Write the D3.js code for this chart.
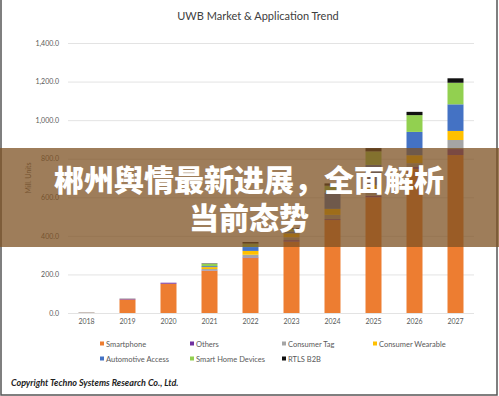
<!DOCTYPE html>
<html><head><meta charset="utf-8">
<script src="https://cdn.jsdelivr.net/npm/d3@7/dist/d3.min.js"></script>
<style>body{margin:0;background:#fff}svg{display:block}</style>
</head><body>
<svg id="c" width="499" height="396"></svg>
<script>
const years = ["2018","2019","2020","2021","2022","2023","2024","2025","2026","2027"];
const seriesNames = ["Smartphone","Others","Consumer Tag","Consumer Wearable","Automotive Access","Smart Home Devices","RTLS B2B"];
const smartphone = [1, 70, 152, 218, 285, 370, 482, 600, 747, 819];
const others     = [0, 3, 5, 2, 3, 8, 5, 8, 10, 31];
const consumerTag= [3, 0, 0, 8, 14, 15, 22, 15, 20, 47];
const wearable   = [0, 0, 0, 10, 20, 20, 31, 40, 41, 47];
const automotive = [0, 0, 0, 5, 20, 10, 85, 105, 121, 138];
const smartHome  = [0, 0, 0, 12, 18, 12, 35, 70, 87, 112];
const rtls       = [0, 1, 0, 2, 8, 5, 12, 17, 17, 23];
const yTicks = [0, 200, 400, 600, 800, 1000, 1200, 1400];
const colors = ["#ED7D31","#7030A0","#A5A5A5","#FFC000","#4472C4","#92D050","#111111"];
const titleText = "UWB Market & Application Trend";
const yTitle = "Mill. Units";
const bannerLines = ["郴州舆情最新进展，全面解析","当前态势"];
const copyright = "Copyright Techno Systems Research Co., Ltd.";

const cols = [smartphone, others, consumerTag, wearable, automotive, smartHome, rtls];
const table = years.map((y,i)=>{const o={year:y}; seriesNames.forEach((n,k)=>o[n]=cols[k][i]); return o;});

const svg = d3.select("#c");
const font = "Lato, 'Open Sans', sans-serif";
const x = d3.scaleBand().domain(years).range([66,476]).paddingInner(0.61).paddingOuter(0.305);
const y = d3.scaleLinear().domain([0,1400]).range([313,43]);
const color = d3.scaleOrdinal().domain(seriesNames).range(colors);

// title
svg.append("text").attr("x",258).attr("y",20).attr("text-anchor","middle")
  .attr("font-family",font).attr("font-size",11).attr("fill","#404040").text(titleText);

// grid
svg.append("g").selectAll("line").data(yTicks).join("line")
  .attr("x1",68).attr("x2",474).attr("y1",d=>y(d)+0.5).attr("y2",d=>y(d)+0.5)
  .attr("stroke","#e3e3e3").attr("stroke-width",1);

// y axis labels
const yAxis = d3.axisLeft(y).tickValues(yTicks).tickSize(0).tickPadding(0).tickFormat(d3.format(",.1f"));
const ya = svg.append("g").attr("transform","translate(59,0)").call(yAxis);
ya.select(".domain").remove();
ya.selectAll("text").attr("font-family",font).attr("font-size",7).attr("fill","#595959");

svg.append("text").attr("transform","translate(31,178) rotate(-90)").attr("text-anchor","middle")
  .attr("font-family",font).attr("font-size",7).attr("fill","#595959").text(yTitle);

// bars
const stack = d3.stack().keys(seriesNames)(table);
svg.append("g").selectAll("g").data(stack).join("g").attr("fill",d=>color(d.key))
  .selectAll("rect").data(d=>d).join("rect")
  .attr("x",d=>x(d.data.year)).attr("width",x.bandwidth())
  .attr("y",d=>y(d[1])).attr("height",d=>Math.max(0,y(d[0])-y(d[1])));

// x axis labels
const xAxis = d3.axisBottom(x).tickSize(0).tickPadding(0);
const xa = svg.append("g").attr("transform","translate(0,320)").call(xAxis);
xa.select(".domain").remove();
xa.selectAll("text").attr("font-family",font).attr("font-size",7).attr("fill","#595959").attr("dy","0.5em");

// legend
const legX = [100,190,282,373];
const leg = svg.append("g").selectAll("g").data(seriesNames).join("g")
  .attr("transform",(d,i)=>`translate(${legX[i%4]},${i<4?344:359})`);
leg.append("rect").attr("x",0).attr("y",-2.5).attr("width",4).attr("height",4).attr("fill",d=>color(d));
leg.append("text").attr("x",6).attr("y",2.6).attr("font-family",font).attr("font-size",7.5)
  .attr("fill","#595959").text(d=>d);

// copyright
svg.append("text").attr("x",11).attr("y",386).attr("font-family",font).attr("font-size",9)
  .attr("font-weight","bold").attr("font-style","italic").attr("fill","#222").text(copyright);

// frame
svg.append("rect").attr("x",1).attr("y",-3).attr("width",496).attr("height",398)
  .attr("fill","none").attr("stroke","#555").attr("stroke-width",1.5);

// banner
svg.append("rect").attr("x",0).attr("y",148).attr("width",499).attr("height",99)
  .attr("fill","rgb(125,82,35)").attr("fill-opacity",0.75);
svg.append("g").selectAll("text").data(bannerLines).join("text")
  .attr("x",249).attr("y",(d,i)=>191+i*38).attr("text-anchor","middle")
  .attr("font-family","'Noto Sans CJK SC', sans-serif").attr("font-weight",900)
  .attr("font-size",30).attr("fill","#fff").text(d=>d);
</script>
</body></html>
